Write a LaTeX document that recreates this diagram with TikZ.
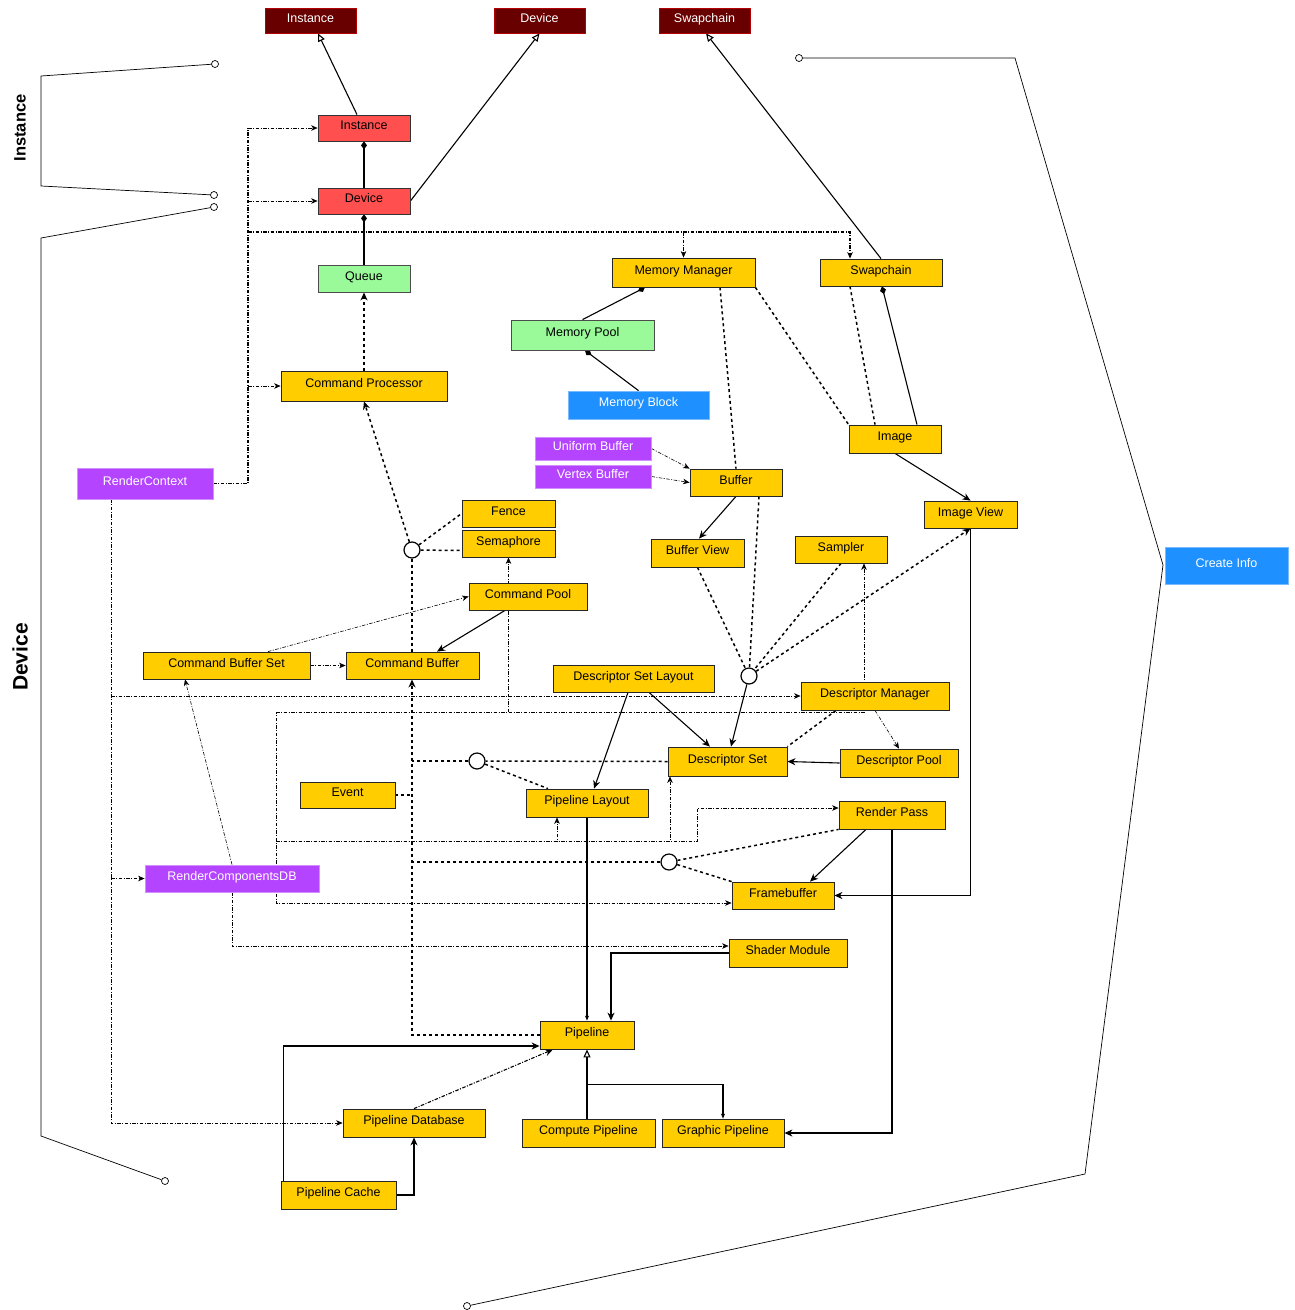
\documentclass[tikz,border=0pt]{standalone}
\usepackage{fontspec}
\setmainfont{Liberation Sans}
\usetikzlibrary{arrows.meta,backgrounds,calc}
\definecolor{yelc}{HTML}{FFCD00}
\definecolor{redc}{HTML}{FF4F4F}
\definecolor{dredc}{HTML}{680000}
\definecolor{grnc}{HTML}{9AFA9A}
\definecolor{purc}{HTML}{B444FF}
\definecolor{bluc}{HTML}{1E90FF}
\newcommand\mybox[7]{\node[#1, minimum width={#5pt-#3pt}, minimum height={#6pt-#4pt}] (#2) at ({(#3+#5)/2},{(#4+#6)/2}) {#7};}
\begin{document}
\begin{tikzpicture}[x=1pt,y=-1pt,
  box/.style={draw, line width=0.8pt, inner sep=0pt, font=\fontsize{12.5}{14}\selectfont, text height=8.5pt, text depth=5pt},
  yel/.style={box, fill=yelc, draw=black!85},
  red/.style={box, fill=redc, draw=black!80},
  dred/.style={box, fill=dredc, draw=red!50!dredc, text=white},
  grn/.style={box, fill=grnc, draw=black!70},
  pur/.style={box, fill=purc, draw=purc!60, text=white},
  blu/.style={box, fill=bluc, draw=bluc!60, text=white},
  circ/.style={circle, draw, fill=white, line width=1.2pt, minimum size=16pt, inner sep=0pt},
  endc/.style={circle, draw, fill=white, line width=0.7pt, minimum size=7pt, inner sep=0pt},
  arr/.style={-{Stealth[length=8pt,width=7pt,inset=2.5pt]}},
  sarr/.style={-{Stealth[length=6.5pt,width=5.5pt,inset=2pt]}},
  tarr/.style={-{Stealth[length=5pt,width=4pt,inset=1.5pt]}},
  tri/.style={-{Triangle[open,length=8pt,width=7pt]}},
  dia/.style={{Diamond[length=8pt,width=6pt]}-},
  sl/.style={draw, line width=1.1pt},
  dt/.style={draw, line width=1.5pt, dash pattern=on 3pt off 3pt},
  dd/.style={draw, line width=0.6pt, dash pattern=on 3.5pt off 1.5pt on 1pt off 1.5pt},
  ddk/.style={draw, line width=1.1pt, dash pattern=on 3.5pt off 1.5pt on 1pt off 1.5pt},
  brk/.style={draw, line width=0.7pt}
]
\useasboundingbox (0,0) rectangle (1294,1310);

% ---------- nodes ----------
\mybox{dred}{tInst}{265}{8}{356}{33}{Instance}
\mybox{dred}{tDev}{494}{8}{585}{33}{Device}
\mybox{dred}{tSwap}{659}{8}{750}{33}{Swapchain}
\mybox{red}{inst}{318}{115}{410}{141}{Instance}
\mybox{red}{dev}{318}{188}{410}{214}{Device}
\mybox{grn}{queue}{318}{265}{410}{292}{Queue}
\mybox{yel}{mm}{612}{258}{755}{287}{Memory Manager}
\mybox{yel}{swap}{820}{259}{942}{286}{Swapchain}
\mybox{grn}{mpool}{511}{320}{654}{350}{Memory Pool}
\mybox{yel}{cproc}{281}{371}{447}{401}{Command Processor}
\mybox{blu}{mblock}{568}{391}{709}{419}{Memory Block}
\mybox{pur}{ubuf}{535}{437}{651}{460}{Uniform Buffer}
\mybox{pur}{vbuf}{535}{465}{651}{488}{Vertex Buffer}
\mybox{yel}{image}{849}{425}{941}{453}{Image}
\mybox{yel}{buffer}{690}{469}{782}{496}{Buffer}
\mybox{pur}{rctx}{77}{468}{213}{499}{RenderContext}
\mybox{yel}{iview}{924}{501}{1017}{528}{Image View}
\mybox{yel}{fence}{462}{500}{555}{527}{Fence}
\mybox{yel}{sema}{462}{530}{555}{557}{Semaphore}
\mybox{yel}{bview}{651}{539}{744}{567}{Buffer View}
\mybox{yel}{sampler}{795}{536}{887}{563}{Sampler}
\mybox{yel}{cpool}{469}{583}{587}{610}{Command Pool}
\mybox{yel}{cbset}{143}{652}{310}{679}{Command Buffer Set}
\mybox{yel}{cbuf}{346}{652}{479}{679}{Command Buffer}
\mybox{yel}{dsl}{553}{665}{714}{692}{Descriptor Set Layout}
\mybox{yel}{dman}{801}{682}{949}{710}{Descriptor Manager}
\mybox{yel}{dset}{668}{747}{787}{776}{Descriptor Set}
\mybox{yel}{dpool}{840}{749}{958}{777}{Descriptor Pool}
\mybox{yel}{event}{300}{782}{395}{808}{Event}
\mybox{yel}{playout}{526}{789}{648}{817}{Pipeline Layout}
\mybox{yel}{rpass}{839}{801}{945}{829}{Render Pass}
\mybox{pur}{rcdb}{145}{865}{319}{892}{RenderComponentsDB}
\mybox{yel}{fbuf}{732}{882}{834}{909}{Framebuffer}
\mybox{yel}{shader}{729}{939}{847}{967}{Shader Module}
\mybox{yel}{pipeline}{540}{1021}{634}{1049}{Pipeline}
\mybox{yel}{pdb}{343}{1109}{485}{1137}{Pipeline Database}
\mybox{yel}{compute}{522}{1119}{655}{1147}{Compute Pipeline}
\mybox{yel}{graphic}{662}{1119}{784}{1147}{Graphic Pipeline}
\mybox{yel}{pcache}{281}{1181}{396}{1209}{Pipeline Cache}
\mybox{blu}{cinfo}{1165}{547}{1288}{584}{Create Info}

\node[circ] (c1) at (412,550) {};
\node[circ] (c2) at (749,676) {};
\node[circ] (c3) at (477,761) {};
\node[circ] (c4) at (669,862) {};

% ---------- brackets ----------
\node[endc] (i1) at (215,64) {};
\node[endc] (i2) at (214,195) {};
\node[endc] (d1) at (214,207) {};
\node[endc] (d2) at (165,1181) {};
\node[endc] (k1) at (799,58) {};
\node[endc] (k2) at (467,1306) {};
\node[rotate=90, font=\bfseries\fontsize{16.5}{18}\selectfont] (lblI) at (20,128) {Instance};
\node[rotate=90, font=\bfseries\fontsize{21}{24}\selectfont] (lblD) at (20,657) {Device};

\begin{pgfonlayer}{background}
\draw[brk] (i1) -- (41,76) -- (41,186) -- (i2);
\draw[brk] (d1) -- (41,238) -- (41,1136) -- (d2);
\draw[brk] (k1) -- (1015,58) -- (1163,565) -- (1085,1174) -- (k2);

% top
\draw[sl,tri] ([xshift=-7pt]inst.north) -- ([xshift=7.5pt]tInst.south);
\draw[sl,tri] (dev.east) -- (tDev.south);
\draw[sl,tri] (swap.north) -- ([xshift=1.5pt]tSwap.south);
\draw[sl,dia] (inst.south) -- (dev.north);
\draw[sl,dia] (dev.south) -- (queue.north);
\draw[dt,arr] (cproc.north) -- (queue.south);
\draw[sl,dia] ([xshift=-38.5pt]mm.south) -- (mpool.north);
\draw[sl,dia] ([xshift=2.5pt]mpool.south) -- (mblock.north);
\draw[dt] ([xshift=36.5pt]mm.south) -- (buffer.north);
\draw[dt] (mm.south east) -- (image.north west);
\draw[dt] ([xshift=-31pt]swap.south) -- ([xshift=-20pt]image.north);
\draw[sl,dia] ([xshift=1pt]swap.south) -- ([xshift=22pt]image.north);
\draw[sl,arr] (image.south) -- (iview.north);
\draw[dd,sarr] (ubuf.east) -- (buffer.north west);
\draw[dd,sarr] (vbuf.east) -- (buffer.west);
\draw[sl,arr] (buffer.south) -- ([xshift=1.5pt]bview.north);
\draw[dt] ([xshift=23pt]buffer.south) -- (c2);
\draw[dt] (bview.south) -- (c2);
\draw[dt] (sampler.south) -- (c2);
\draw[dt,arr] (c2) -- (iview.south);
\draw[sl,arr] (c2) -- ([xshift=3.5pt]dset.north);

% descriptors
\draw[sl,arr] ([xshift=15.5pt]dsl.south) -- ([xshift=-17.5pt]dset.north);
\draw[sl,arr] ([xshift=-5.5pt]dsl.south) -- ([xshift=7pt]playout.north);
\draw[sl,arr] (dpool.west) -- (dset.east);
\draw[dt] ([xshift=-39pt]dman.south) -- (dset.north east);
\draw[dd,sarr] (dman.south) -- (dpool.north);
\draw[dt] (dset.west) -- (c3);
\draw[dt] (c3) -- ([xshift=-39pt]playout.north);

% command
\draw[dt,arr] (c1) -- (cproc.south);
\draw[dt] (c1) -- (fence.west);
\draw[dt] (c1) -- ([yshift=-7pt]sema.west);
\draw[dt] (c1) -- (c1 |- cbuf.north);
\draw[sl,arr] ([xshift=-23pt]cpool.south) -- ([xshift=24.5pt]cbuf.north);
\draw[dd,sarr] (cbset.east) -- (cbuf.west);
\draw[dd,sarr] ([xshift=41.5pt]cbset.north) -- (cpool.west);
\draw[dd,sarr] (rcdb.north) -- ([xshift=-41.5pt]cbset.south);

% pipeline -> command buffer bus
\draw[dt,arr] (pipeline.west) -| (c1 |- cbuf.south);
\draw[dt] (event.east) -- (event.east -| c1);
\draw[dt] (c3) -- (c3 -| c1);
\draw[dt] (c4) -- (c4 -| c1);

% render pass / framebuffer
\draw[dt] (c4) -- (rpass.south west);
\draw[dt] (c4) -- (fbuf.north west);
\draw[sl,arr] ([xshift=-26pt]rpass.south) -- ([xshift=27pt]fbuf.north);
\draw[sl,arr] (iview.south) |- (fbuf.east);
\draw[sl,arr] (rpass.south) |- (graphic.east);

% pipeline
\draw[sl,arr] (shader.west) -| ([xshift=24pt]pipeline.north);
\draw[sl,tarr] (playout.south) -- (pipeline.north);
\path (pipeline.south) ++(0,35) coordinate (gj);
\draw[sl,tri] (compute.north -| pipeline.south) -- (pipeline.south);
\draw[sl,tarr] (gj) -| (graphic.north);
\draw[sl,arr] ([xshift=3pt]pcache.north west) |- ([yshift=-11pt]pipeline.west);
\draw[sl,arr] (pcache.east) -| (pdb.south);
\draw[ddk,arr] (pdb.north) -- ([xshift=-34pt]pipeline.south);

% RenderContext buses
\coordinate (busx) at (248,232);
\draw[ddk] (rctx.east) -- (rctx.east -| busx) -- (busx |- inst.west);
\draw[dd,sarr] (busx |- inst.west) -- (inst.west);
\draw[dd,sarr] (busx |- dev.west) -- (dev.west);
\draw[dd,sarr] (busx |- cproc.west) -- (cproc.west);
\draw[ddk,sarr] (busx) -| ([xshift=-31pt]swap.north);
\draw[dd,sarr] (busx -| mm.north) -- (mm.north);

\coordinate (rb) at ([xshift=-34pt]rctx.south);
\draw[dd,sarr] (rb) |- (pdb.west);
\draw[dd,sarr] (rb |- dman.west) -- (dman.west);
\draw[dd,sarr] (rb |- rcdb.west) -- (rcdb.west);

% RenderComponentsDB buses
\coordinate (rcb) at ([xshift=44pt]rcdb.center);
\coordinate (rtop) at (276,712);
\coordinate (rmid) at (276,841);
\draw[dd] (rcb) -- (rtop);
\draw[dd,sarr] (rtop) -| (sema.south);
\draw[dd,sarr] (rtop) -| ([xshift=23pt]sampler.south);
\draw[dd,sarr] (rmid) -| ([xshift=-30pt]playout.south);
\draw[dd,sarr] (rmid) -| ([xshift=-57.5pt]dset.south);
\draw[dd,sarr] (rmid) -- ++(421,0) |- ([yshift=7pt]rpass.west);
\draw[dd,sarr] (rcb) |- ([yshift=-7.5pt]fbuf.west);
\draw[dd,sarr] (rcdb.south) |- ([yshift=7pt]shader.west);
\end{pgfonlayer}
\end{tikzpicture}
\end{document}
